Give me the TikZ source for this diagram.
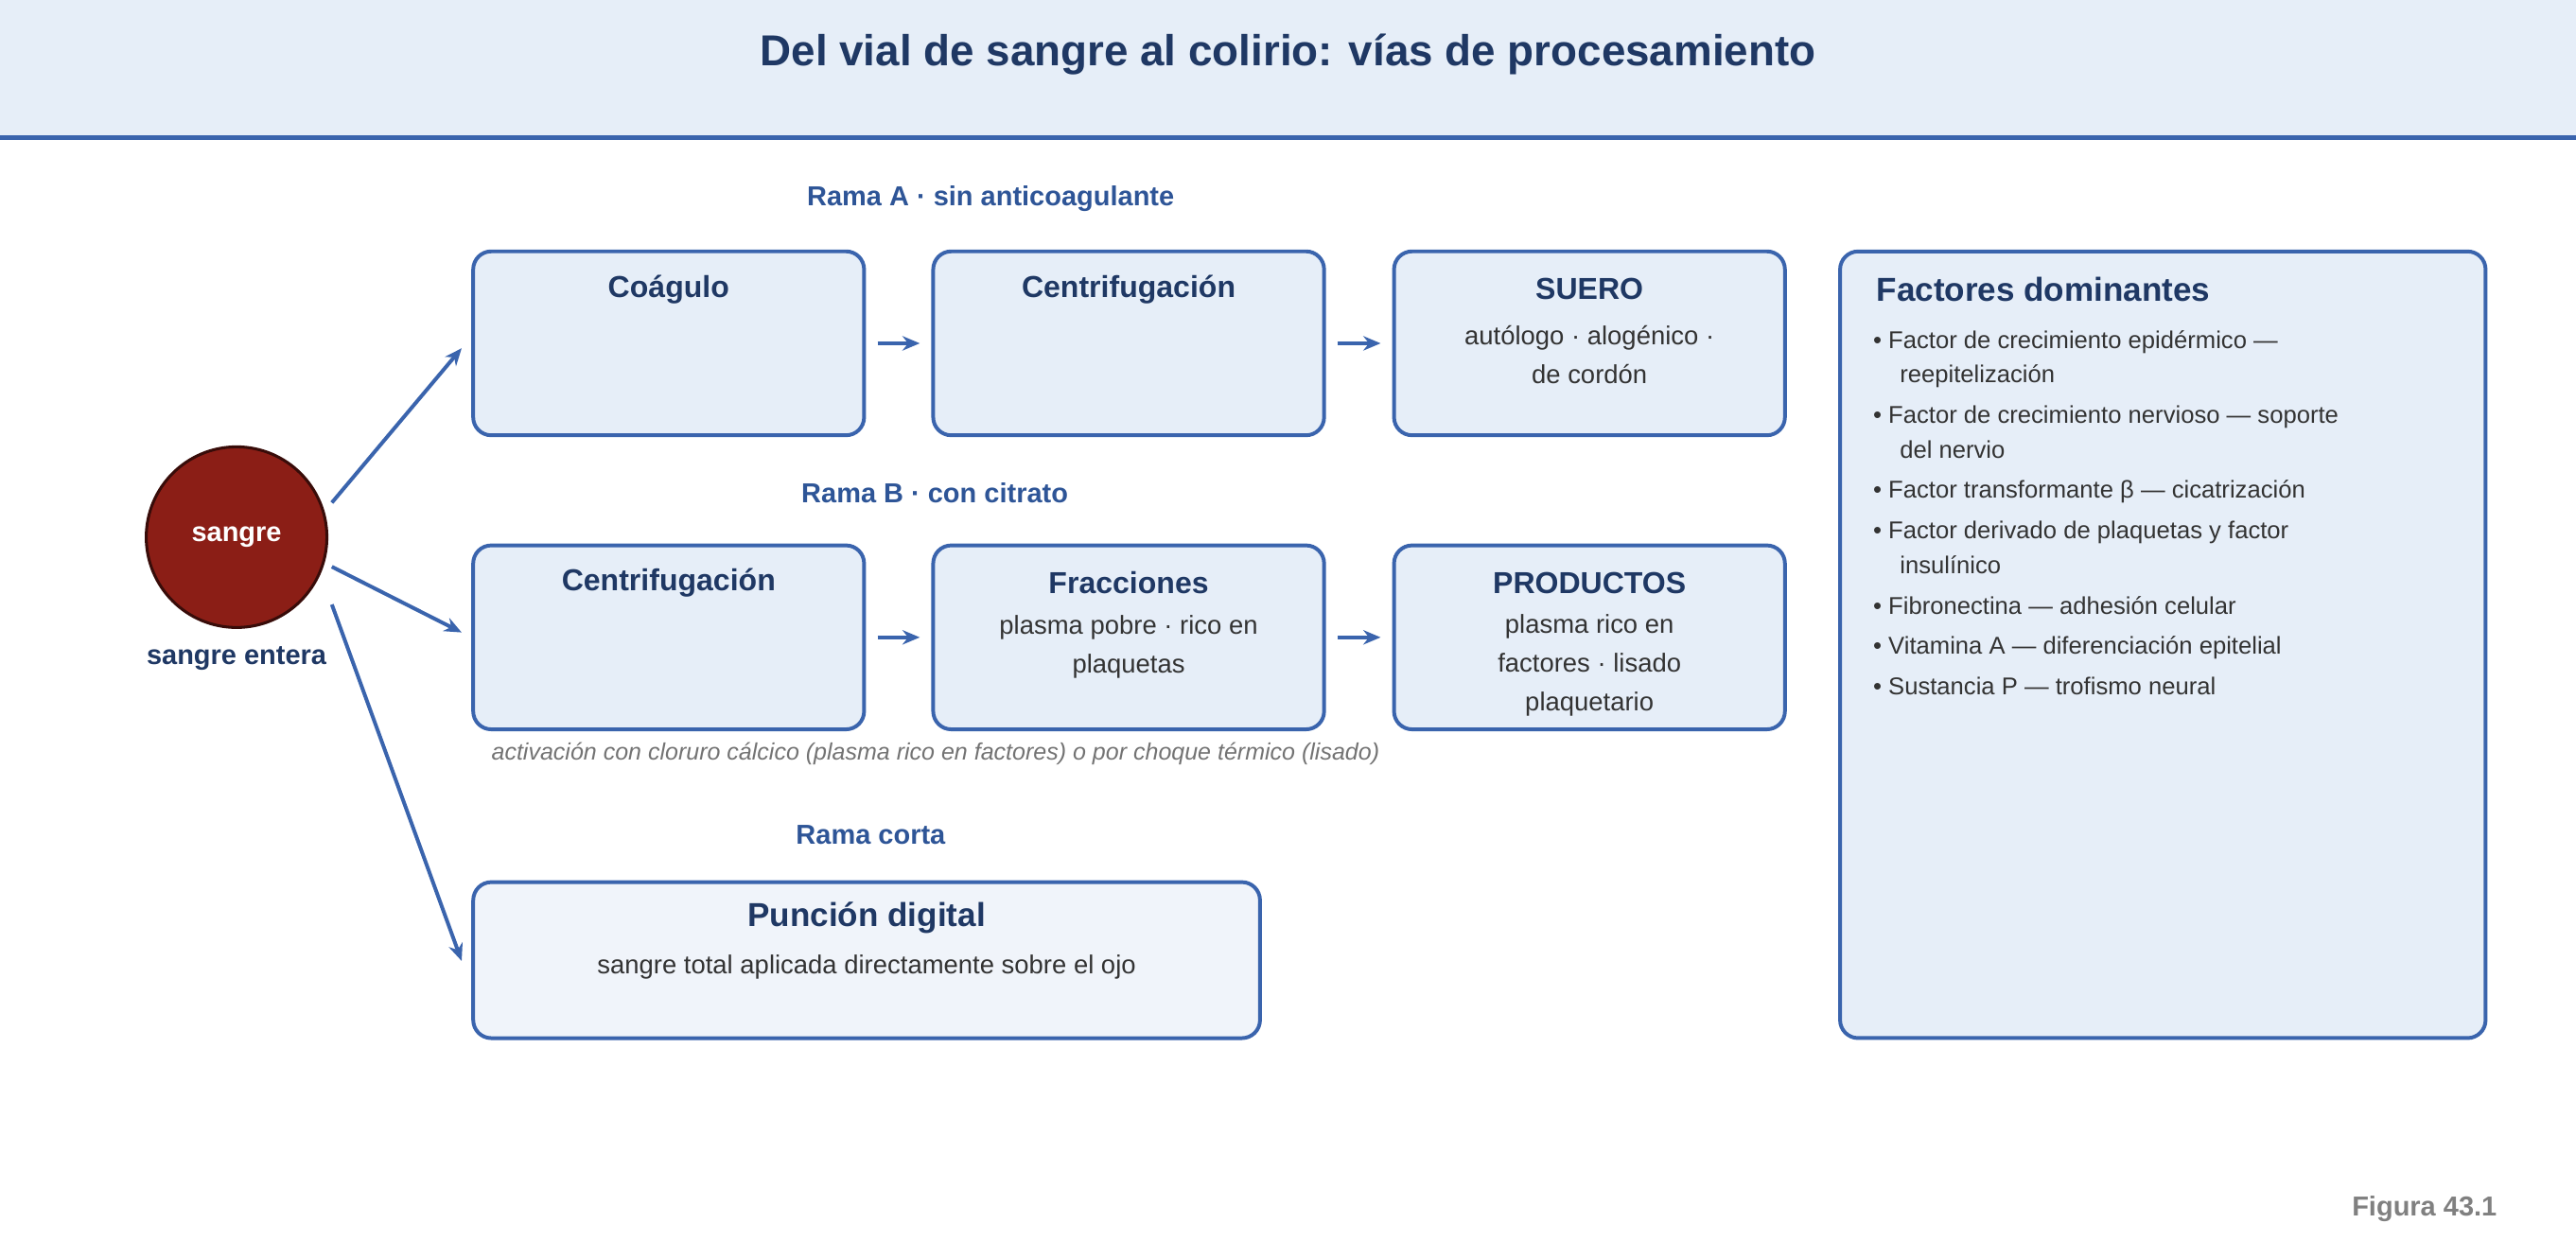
\documentclass[tikz,border=0pt]{standalone}
\usepackage{fontspec}
\setmainfont{Liberation Sans}
\usetikzlibrary{arrows.meta}
\definecolor{navy}{HTML}{1F3864}
\definecolor{blu}{HTML}{2E5597}
\definecolor{edge}{HTML}{3A64AD}
\definecolor{fillb}{HTML}{E6EEF8}
\definecolor{filll}{HTML}{F0F4FA}
\definecolor{blood}{HTML}{8B1E16}
\definecolor{txt}{HTML}{333333}
\tikzset{
 box/.style={draw=edge,line width=1.3pt,fill=fillb,rounded corners=0.22cm,minimum width=4.76cm,minimum height=2.24cm,inner sep=0},
 btitle/.style={font=\fontsize{10.5}{12}\selectfont\bfseries,text=navy},
 body/.style={font=\fontsize{9}{13.5}\selectfont,text=txt,align=center},
 rama/.style={font=\fontsize{9.5}{11}\selectfont\bfseries,text=blu},
 bul/.style={font=\fontsize{8.4}{12}\selectfont,text=txt,anchor=north west,align=left},
 arr/.style={draw=edge,line width=1.3pt,-{Stealth[length=6pt,width=5pt]}}
}
\begin{document}
\begin{tikzpicture}[x=0.02cm,y=-0.02cm]
\useasboundingbox (0,0) rectangle (1568,755);
\fill[fillb] (0,0) rectangle (1568,84);
\draw[edge,line width=1.6pt] (0,84) -- (1568,84);
\node[font=\fontsize{15}{18}\selectfont\bfseries,text=navy] (title) at (784,33) {Del vial de sangre al colirio: vías de procesamiento};
% circle
\node[circle,draw=black!60!blood,line width=1pt,fill=blood,minimum size=2.2cm,inner sep=0,text=white,font=\fontsize{9.5}{11}\selectfont\bfseries] (s) at (144,327) {sangre};
\node[font=\fontsize{9.5}{11}\selectfont\bfseries,text=navy] (sl) at (144,401) {sangre entera};
% row A
\node[rama] (ra) at (603,121) {Rama A · sin anticoagulante};
\node[box] (a1) at (407,209) {};
\node[box] (a2) at (687,209) {};
\node[box] (a3) at (967.5,209) {};
\node[btitle] (a1t) at (407,176) {Coágulo};
\node[btitle] (a2t) at (687,176) {Centrifugación};
\node[btitle] (a3t) at (967.5,176) {SUERO};
\node[body] (a3b) at (967.5,216) {autólogo · alogénico ·\\de cordón};
\draw[arr,shorten <=0.14cm,shorten >=0.14cm] (a1.east) -- (a2.west);
\draw[arr,shorten <=0.14cm,shorten >=0.14cm] (a2.east) -- (a3.west);
% row B
\node[rama] (rb) at (569,300) {Rama B · con citrato};
\node[box] (b1) at (407,388) {};
\node[box] (b2) at (687,388) {};
\node[box] (b3) at (967.5,388) {};
\node[btitle] (b1t) at (407,355) {Centrifugación};
\node[btitle] (b2t) at (687,355) {Fracciones};
\node[btitle] (b3t) at (967.5,355) {PRODUCTOS};
\node[body] (b2b) at (687,394) {plasma pobre · rico en\\plaquetas};
\node[body] (b3b) at (967.5,405) {plasma rico en\\factores · lisado\\plaquetario};
\draw[arr,shorten <=0.14cm,shorten >=0.14cm] (b1.east) -- (b2.west);
\draw[arr,shorten <=0.14cm,shorten >=0.14cm] (b2.east) -- (b3.west);
\node[anchor=west,font=\fontsize{8.2}{10}\selectfont\itshape,text=black!55] (note) at (293,459) {activación con cloruro cálcico (plasma rico en factores) o por choque térmico (lisado)};
% short
\node[rama] (rc) at (530,508) {Rama corta};
\node[box,fill=filll,minimum width=9.58cm,minimum height=1.9cm] (c1) at (527.5,584.5) {};
\node[btitle,font=\fontsize{11.5}{13}\selectfont\bfseries] (c1t) at (527.5,559) {Punción digital};
\node[body] (c1b) at (527.5,589) {sangre total aplicada directamente sobre el ojo};
% arrows from blood
\coordinate (s1) at (202,306); \coordinate (e1) at (281,212);
\coordinate (s2) at (202,345); \coordinate (e2) at (281,385);
\coordinate (s3) at (202,368); \coordinate (e3) at (281,585);
\draw[arr] (s1) -- (e1);
\draw[arr] (s2) -- (e2);
\draw[arr] (s3) -- (e3);
% factors
\node[box,minimum width=7.86cm,minimum height=9.58cm] (f) at (1316.5,392.5) {};
\node[anchor=west,font=\fontsize{11.5}{13}\selectfont\bfseries,text=navy] (ft) at (1136,176) {Factores dominantes};
\node[bul] (fl) at (1134,195) {%
• Factor de crecimiento epidérmico —\\\hspace*{1.1em}reepitelización\\[2pt]
• Factor de crecimiento nervioso — soporte\\\hspace*{1.1em}del nervio\\[2pt]
• Factor transformante β — cicatrización\\[2pt]
• Factor derivado de plaquetas y factor\\\hspace*{1.1em}insulínico\\[2pt]
• Fibronectina — adhesión celular\\[2pt]
• Vitamina A — diferenciación epitelial\\[2pt]
• Sustancia P — trofismo neural};
\node[anchor=east,font=\fontsize{9.5}{11}\selectfont\bfseries,text=black!50] (fig) at (1526,736) {Figura 43.1};
\end{tikzpicture}
\end{document}
